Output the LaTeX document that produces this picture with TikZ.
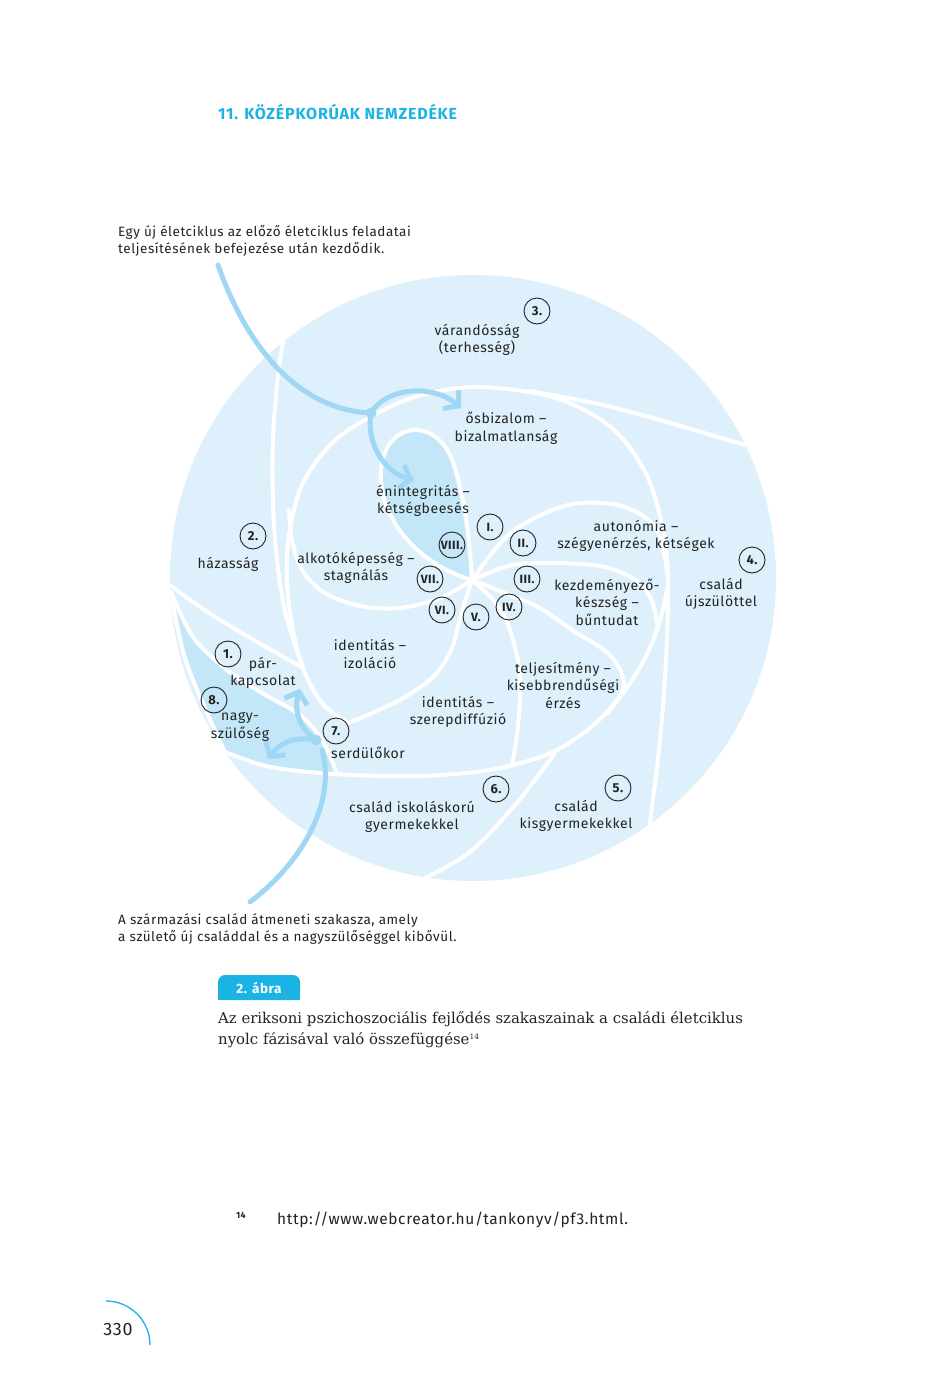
\documentclass[tikz,border=0pt]{standalone}
\usepackage{fontspec}
\setmainfont{Fira Sans}[LetterSpace=4]
\newfontfamily\headfont{Fira Sans}[LetterSpace=5]
\newfontfamily\capfont{DejaVu Serif}
\usetikzlibrary{arrows.meta}
\definecolor{diskc}{RGB}{221,240,251}
\definecolor{darkc}{RGB}{196,230,249}
\definecolor{arrc}{RGB}{160,215,244}
\definecolor{cyanc}{RGB}{27,178,228}
\definecolor{txtc}{RGB}{35,35,35}
\tikzset{
  wline/.style={white, line width=4pt, line cap=round, line join=round},
  lbl/.style={text=txtc, font=\fontsize{14}{17.5}\selectfont, align=center, inner sep=0pt},
  plain/.style={text=txtc, font=\fontsize{13.5}{17}\selectfont, align=left, inner sep=0pt, anchor=base west},
  num/.style={circle, draw=txtc, line width=0.9pt, minimum size=26pt, inner sep=0pt,
              font=\bfseries\fontsize{13}{13}\selectfont, text=txtc},
  rnum/.style={num, font=\bfseries\fontsize{12}{12}\selectfont},
  arr/.style={arrc, line width=5pt, line cap=round,
              -{Straight Barb[length=10pt,width=24pt]}},
  arrline/.style={arrc, line width=5pt, line cap=round}
}
\begin{document}
\begin{tikzpicture}[x=1pt,y=-1pt]
\useasboundingbox (0,0) rectangle (935,1389);
\fill[white] (0,0) rectangle (935,1389);

% heading
\node[anchor=base west, inner sep=0pt, text=cyanc, font=\headfont\bfseries\fontsize{16}{16}\selectfont] (head) at (218,119) {11. KÖZÉPKORÚAK NEMZEDÉKE};

% side texts (base = last line)
\node[plain] (toptext) at (118,253) {Egy új életciklus az előző életciklus feladatai\\teljesítésének befejezése után kezdődik.};
\node[plain] (bottext) at (118,941) {A származási család átmeneti szakasza, amely\\a születő új családdal és a nagyszülőséggel kibővül.};

% disk (spiral shell, slight steps at chamber borders)
\fill[diskc] (473,578) circle[radius=303];
\fill[white] (283,342) .. controls (240,372) and (196,430) .. (176,500) -- (168,500) .. controls (190,420) and (236,360) .. (283,336) -- cycle;

% dark band (8) and teardrop (VIII)
\fill[darkc] plot[smooth] coordinates {(171,595) (185,658) (208,715) (225,752)}
  -- plot[smooth] coordinates {(225,752) (262,765) (300,771) (336,772)}
  -- plot[smooth] coordinates {(336,772) (322,740) (300,715) (262,693) (227,670) (193,637) (171,592)} -- cycle;
\coordinate (C) at (472,580);
\fill[darkc] (C) .. controls (420,565) and (378,520) .. (381,470)
  .. controls (384,425) and (430,415) .. (450,455)
  .. controls (463,485) and (470,540) .. (C);

% white separating lines
\draw[wline] (C) .. controls (420,565) and (378,520) .. (381,470)
  .. controls (384,425) and (430,415) .. (450,455)
  .. controls (463,485) and (470,540) .. (C);
\draw[wline] plot[smooth, tension=0.55] coordinates {(650,823) (660,740) (666,660) (668,580) (663,530) (648,478) (622,438) (590,413) (545,395) (475,387) (418,396) (372,416) (332,443) (302,485) (289,535) (287,580) (292,625) (303,668) (322,703) (348,723)};
\draw[wline] plot[smooth, tension=0.55] coordinates {(283,342) (278,375) (273,437) (273,503) (277,560) (286,615) (303,668)};
\draw[wline] plot[smooth, tension=0.55] coordinates {(530,391) (603,405) (670,423) (745,445)};
\draw[wline] plot[smooth, tension=0.55] coordinates {(170,585) (200,607) (240,632) (275,652) (303,668)};
\draw[wline] plot[smooth, tension=0.55] coordinates {(171,592) (193,637) (227,670) (262,693) (300,715) (322,740) (336,771)};
\draw[wline] plot[smooth, tension=0.55] coordinates {(171,595) (185,658) (208,715) (225,752)};
\draw[wline] plot[smooth, tension=0.55] coordinates {(225,752) (262,765) (300,771) (352,775) (420,776) (475,772) (513,765) (553,752) (590,728) (620,697) (643,662) (657,630) (665,600) (668,583)};
\draw[wline] plot[smooth, tension=0.55] coordinates {(555,753) (515,805) (470,852) (425,878)};
% Erikson blades
\draw[wline] plot[smooth, tension=0.55] coordinates {(C) (506,537) (543,514) (580,503) (625,507) (657,530) (668,578)};
\draw[wline] plot[smooth, tension=0.55] coordinates {(C) (512,565) (557,563) (605,567) (638,582) (653,604) (658,630)};
\draw[wline] plot[smooth, tension=0.55] coordinates {(C) (505,593) (540,608) (575,632) (610,655) (624,685) (607,714)};
\draw[wline] plot[smooth, tension=0.55] coordinates {(C) (495,602) (510,630) (520,675) (518,725) (512,766)};
\draw[wline] plot[smooth, tension=0.55] coordinates {(C) (460,618) (452,648) (435,675) (405,697) (370,714) (348,723)};
\draw[wline] plot[smooth, tension=0.55] coordinates {(C) (440,598) (400,608) (360,606) (325,593) (302,570) (292,540) (289,510)};

% arrows
\coordinate (dotA) at (371,413);
\coordinate (dotB) at (316,740);
\coordinate (topstart) at (218,265);
\coordinate (botstart) at (250,902);
\draw[arrline] (topstart) .. controls (248,350) and (300,410) .. (dotA);
\draw[arr] (dotA) .. controls (385,388) and (432,383) .. (461,408);
\draw[arr] (dotA) .. controls (366,440) and (382,472) .. (414,480);
\fill[arrc] (dotA) circle[radius=5.5];
\draw[arrline] (botstart) .. controls (305,860) and (336,800) .. (322,750);
\draw[arr] (dotB) .. controls (298,728) and (294,708) .. (300,689);
\draw[arr] (dotB) .. controls (296,736) and (280,742) .. (268,759);
\fill[arrc] (dotB) circle[radius=5.5];

% diagram labels
\node[lbl] (l3) at (477,340) {várandósság\\(terhesség)};
\node[lbl] (lI) at (506,428) {ősbizalom –\\bizalmatlanság};
\node[lbl] (lVIII) at (423,501) {énintegritás –\\kétségbeesés};
\node[lbl] (l2) at (228,564) {házasság};
\node[lbl] (lII) at (636,536) {autonómia –\\szégyenérzés, kétségek};
\node[lbl] (l4) at (721,594) {család\\újszülöttel};
\node[lbl] (lVII) at (356,568) {alkotóképesség –\\stagnálás};
\node[lbl] (lIII) at (607,602) {kezdeményező-\\készség –\\bűntudat};
\node[lbl] (lVI) at (370,654) {identitás –\\izoláció};
\node[lbl] (l1) at (263,673) {pár-\\kapcsolat};
\node[lbl] (lIV) at (563,685) {teljesítmény –\\kisebbrendűségi\\érzés};
\node[lbl] (l8) at (240,727) {nagy-\\szülőség};
\node[lbl] (lV) at (458,712) {identitás –\\szerepdiffúzió};
\node[lbl] (l7) at (368,753) {serdülőkor};
\node[lbl] (l6) at (412,817) {család iskoláskorú\\gyermekekkel};
\node[lbl] (l5) at (576,816) {család\\kisgyermekekkel};

% numbers
\node[num] (n1) at (228,654) {1.};
\node[num] (n2) at (253,536) {2.};
\node[num] (n3) at (537,311) {3.};
\node[num] (n4) at (752,560) {4.};
\node[num] (n5) at (618,788) {5.};
\node[num] (n6) at (496,789) {6.};
\node[num] (n7) at (336,731) {7.};
\node[num] (n8) at (214,700) {8.};
\node[rnum] (r1) at (490,527) {I.};
\node[rnum] (r2) at (523,543) {II.};
\node[rnum] (r3) at (527,579) {III.};
\node[rnum] (r4) at (509,607) {IV.};
\node[rnum] (r5) at (476,617) {V.};
\node[rnum] (r6) at (442,610) {VI.};
\node[rnum] (r7) at (430,579) {VII.};
\node[rnum] (r8) at (452,545) {VIII.};

% caption
\fill[cyanc, rounded corners=7pt] (218,1000) -- (218,975) -- (300,975) -- (300,1000) -- cycle;
\fill[cyanc] (218,988) rectangle (300,1000);
\node[text=white, font=\bfseries\fontsize{13.5}{13.5}\selectfont, inner sep=0pt] (tag) at (259,988) {2. ábra};
\node[anchor=base west, inner sep=0pt, text=txtc, align=left, font=\capfont\fontsize{14.9}{21}\selectfont] (cap) at (218,1044)
  {Az eriksoni pszichoszociális fejlődés szakaszainak a családi életciklus\\nyolc fázisával való összefüggése\raisebox{0.6ex}{\fontsize{7.5}{7.5}\selectfont 14}};

% footnote
\node[anchor=base west, inner sep=0pt, text=txtc, font=\bfseries\fontsize{9}{9}\selectfont] (fnnum) at (236,1218) {14};
\node[anchor=base west, inner sep=0pt, text=txtc, font=\fontsize{15.5}{15.5}\selectfont] (fn) at (277,1224) {http://www.webcreator.hu/tankonyv/pf3.html.};

% page number
\draw[cyanc, line width=1.3pt] (106,1301) arc[start angle=-90, end angle=0, radius=44];
\node[text=txtc, font=\fontsize{18}{18}\selectfont, inner sep=0pt] (page) at (118,1329) {330};
\end{tikzpicture}
\end{document}
